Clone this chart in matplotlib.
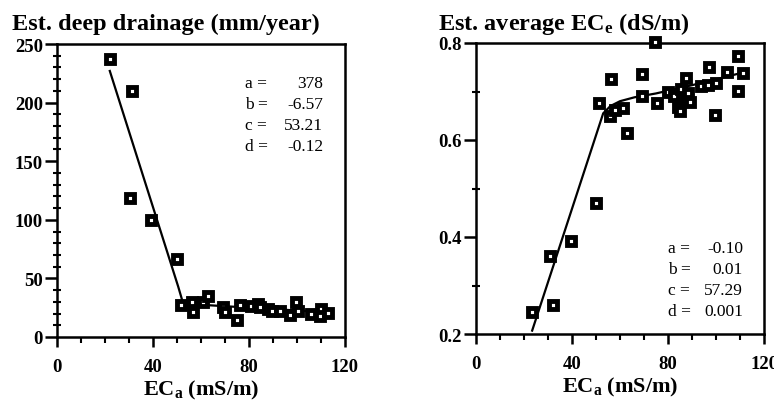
import matplotlib
matplotlib.use("Agg")
import matplotlib.pyplot as plt
from matplotlib.ticker import MultipleLocator

# =============================================================================
# Data
# =============================================================================
# left panel: estimated deep drainage (mm/year) against ECa (mS/m)
drain_eca = [22, 31.2, 30.6, 39.3, 50.2, 51.7, 56.4, 56.6, 61, 63.1, 69, 70,
             75.2, 76.2, 81, 83.8, 84.5, 88, 89.4, 92.8, 96.9, 99.7, 100.4,
             105.9, 110, 109.6, 113]
drain_mm = [237, 210, 118.7, 100, 66.8, 27, 29.7, 21.5, 29.5, 35, 26, 21,
            14.5, 27, 26.5, 28.3, 25.5, 24, 22.3, 22.5, 18.5, 30, 22.5,
            20, 24, 17.5, 20.5]
drain_fit_x = [22, 50.5, 52.5, 60, 113]
drain_fit_y = [227, 43, 29, 27.5, 21]
drain_params = ["378", "-6.57", "53.21", "-0.12"]

# right panel: estimated average ECe (dS/m) against ECa (mS/m)
ece_eca = [23.4, 30.9, 31.9, 39.5, 50.2, 51.3, 56.4, 56.0, 58.0, 61.3, 62.8,
           69.1, 69.1, 74.5, 75.6, 80.0, 82.5, 84.1, 85.0, 85.5, 87.5, 87.5,
           88.5, 89.0, 93.7, 96.5, 97.2, 99.9, 99.5, 104.7, 109.2, 109.2,
           111.3]
ece_ds = [0.245, 0.36, 0.26, 0.391, 0.471, 0.676, 0.725, 0.649, 0.662, 0.665,
          0.615, 0.737, 0.690, 0.802, 0.677, 0.698, 0.69, 0.669, 0.66, 0.706,
          0.727, 0.683, 0.696, 0.678, 0.712, 0.714, 0.751, 0.717, 0.651,
          0.740, 0.774, 0.702, 0.739]
ece_fit_x = [23.4, 53, 56, 60, 66, 75, 90, 112]
ece_fit_y = [0.207, 0.655, 0.670, 0.680, 0.688, 0.696, 0.713, 0.740]
ece_params = ["-0.10", "0.01", "57.29", "0.001"]

param_names = ["a =", "b =", "c =", "d ="]

# =============================================================================
# Style
# =============================================================================
plt.rcParams["font.family"] = ["Liberation Serif", "DejaVu Serif"]
plt.rcParams["mathtext.fontset"] = "custom"
plt.rcParams["mathtext.rm"] = "Liberation Serif:bold"
plt.rcParams["mathtext.it"] = "Liberation Serif:bold"
plt.rcParams["mathtext.bf"] = "Liberation Serif:bold"

W, H = 774, 402
fig = plt.figure(figsize=(W / 100, H / 100), dpi=100, facecolor="w")


def fx(px):
    return px / W


def fy(py):
    return 1 - py / H


def panel(box, xs, ys, fit_x, fit_y, ylim, ymaj, ymin, title, title_x,
          params, px_lab, px_val, py_rows):
    x0, y0, x1, y1 = box
    ax = fig.add_axes([fx(x0), fy(y1), fx(x1 - x0), (y1 - y0) / H])
    ax.plot(fit_x, fit_y, color="k", lw=1.6, zorder=2)
    ax.plot(xs, ys, ls="none", marker="s", ms=6.0, mew=3.5,
            mfc="w", mec="k", zorder=3, clip_on=False)
    ax.set_xlim(0, 120)
    ax.set_ylim(*ylim)
    ax.xaxis.set_major_locator(MultipleLocator(40))
    ax.xaxis.set_minor_locator(MultipleLocator(10))
    ax.yaxis.set_major_locator(MultipleLocator(ymaj))
    ax.yaxis.set_minor_locator(MultipleLocator(ymin))
    for s in ax.spines.values():
        s.set_linewidth(1.8)
    ax.tick_params(axis="x", which="major", direction="out", length=7,
                   width=1.8, pad=8)
    ax.tick_params(axis="x", which="minor", direction="out", length=4,
                   width=1.5)
    ax.tick_params(axis="y", which="major", direction="out", length=9,
                   width=1.8, pad=1)
    ax.tick_params(axis="y", which="minor", direction="inout", length=6,
                   width=1.5)
    for lab in ax.get_xticklabels() + ax.get_yticklabels():
        lab.set_fontweight("bold")
        lab.set_fontsize(13.5)
    ax.set_xlabel(r"EC$_\mathregular{a}$ (mS/m)", fontsize=16,
                  fontweight="bold", labelpad=2)
    fig.text(fx(title_x), fy(30), title, fontsize=17.5, fontweight="bold",
             va="baseline", ha="left")
    # fitted parameters
    for name, val, py in zip(param_names, params, py_rows):
        fig.text(fx(px_lab), fy(py), name, fontsize=12.5, va="baseline")
        fig.text(fx(px_val), fy(py), val, fontsize=12.5, va="baseline",
                 ha="right")
    return ax


panel((57, 45, 345, 338), drain_eca, drain_mm, drain_fit_x, drain_fit_y,
      (0, 250), 50, 10, "Est. deep drainage (mm/year)", 12,
      drain_params, 245, 323, [88, 109, 130, 151])

panel((476, 44, 764, 335), ece_eca, ece_ds, ece_fit_x, ece_fit_y,
      (0.2, 0.8), 0.2, 0.1, r"Est. average EC$_\mathregular{e}$ (dS/m)", 438,
      ece_params, 668, 743, [253, 274, 295, 316])

fig.savefig("out.png", dpi=100)
plt.close(fig)
